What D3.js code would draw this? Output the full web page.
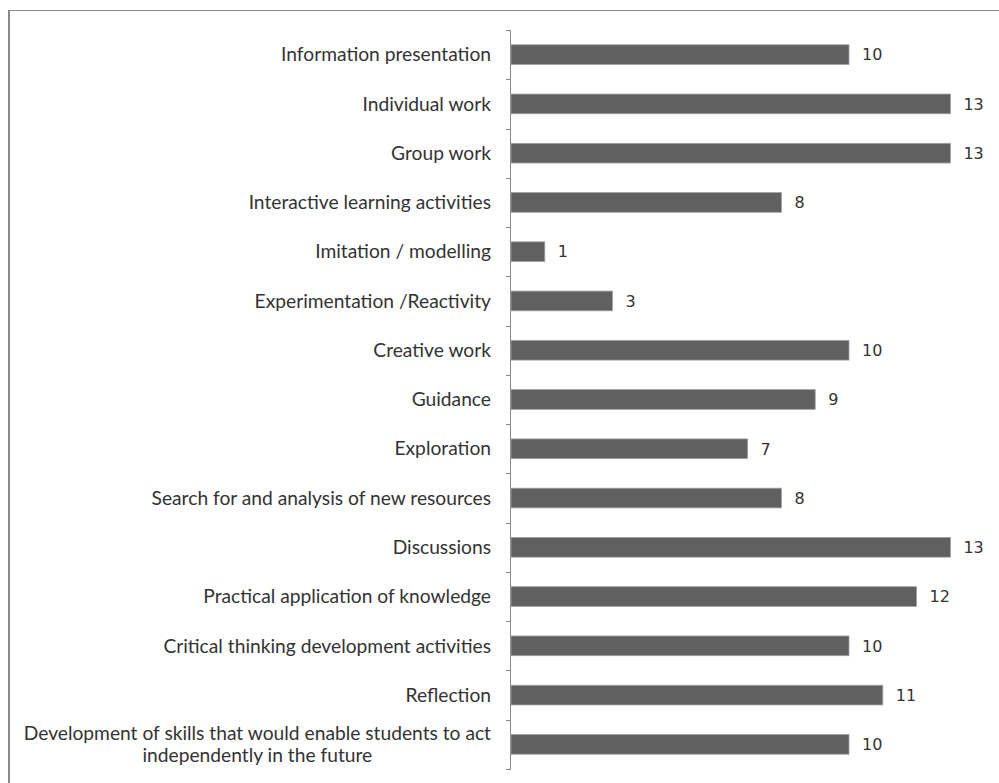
<!DOCTYPE html>
<html>
<head>
<meta charset="utf-8">
<script src="https://cdn.jsdelivr.net/npm/d3@7/dist/d3.min.js"></script>
<style>
  html, body { margin: 0; padding: 0; background: #fff; }
  svg { display: block; }
</style>
</head>
<body>
<svg id="chart" width="999" height="783"></svg>
<script>
// Teaching methods and how many respondents named each
const categories = [
  "Information presentation",
  "Individual work",
  "Group work",
  "Interactive learning activities",
  "Imitation / modelling",
  "Experimentation /Reactivity",
  "Creative work",
  "Guidance",
  "Exploration",
  "Search for and analysis of new resources",
  "Discussions",
  "Practical application of knowledge",
  "Critical thinking development activities",
  "Reflection",
  "Development of skills that would enable students to act\nindependently in the future"
];
const values = [10, 13, 13, 8, 1, 3, 10, 9, 7, 8, 13, 12, 10, 11, 10];
const valueMax = 13;

const svg = d3.select("#chart");

// frame: top and left edges only
svg.append("line").attr("x1", 9).attr("x2", 999).attr("y1", 10.5).attr("y2", 10.5)
  .attr("stroke", "#888").attr("stroke-width", 1);
svg.append("line").attr("x1", 9).attr("x2", 9).attr("y1", 10).attr("y2", 783)
  .attr("stroke", "#888").attr("stroke-width", 2);

const x0 = 511, y0 = 30, y1 = 769;
const x = d3.scaleLinear().domain([0, valueMax]).range([x0, 950.4]);
const y = d3.scaleBand().domain(categories).range([y0, y1]).paddingInner(0.6).paddingOuter(0.3);

// category axis: line with ticks between bands
const step = (y1 - y0) / categories.length;
const g = svg.append("g");
g.append("line").attr("x1", x0 - 0.5).attr("x2", x0 - 0.5).attr("y1", y0).attr("y2", y1)
  .attr("stroke", "#888").attr("stroke-width", 1);
d3.range(categories.length + 1).forEach(i => {
  const yy = Math.round(y0 + i * step) + 0.5;
  g.append("line").attr("x1", x0 - 5).attr("x2", x0).attr("y1", yy).attr("y2", yy)
    .attr("stroke", "#888").attr("stroke-width", 1);
});

// bars
svg.append("g").selectAll("rect").data(values).join("rect")
  .attr("x", x(0))
  .attr("y", (d, i) => y(categories[i]))
  .attr("width", d => x(d) - x(0))
  .attr("height", y.bandwidth())
  .attr("fill", "#606060")
  .attr("stroke", "#a0a0a0")
  .attr("stroke-width", 0.8);

// value labels
svg.append("g").selectAll("text").data(values).join("text")
  .attr("x", d => x(d) + 13)
  .attr("y", (d, i) => y(categories[i]) + y.bandwidth() / 2)
  .attr("dy", "0.36em")
  .attr("font-family", "DejaVu Sans, Verdana, sans-serif")
  .attr("font-size", 16)
  .attr("fill", "#333")
  .text(d => d);

// category labels, sized so the widest line fills the space left of the axis
const labelFont = "Lato, 'Open Sans', sans-serif";
const probe = svg.append("text").attr("font-family", labelFont).attr("font-size", 100)
  .text("Information presentation");
const fs = 100 * 210 / probe.node().getComputedTextLength();
probe.remove();

const labelRight = 491;
const lg = svg.append("g").attr("font-family", labelFont).attr("font-size", fs).attr("fill", "#333");
categories.forEach(c => {
  const lines = c.split("\n");
  const cy = y(c) + y.bandwidth() / 2;
  const lh = 22;
  if (lines.length === 1) {
    lg.append("text").attr("x", labelRight).attr("y", cy).attr("dy", "0.35em")
      .attr("text-anchor", "end").text(c);
  } else {
    // wrapped label: lines centred on each other, widest one flush right
    const t = lg.append("text").attr("text-anchor", "middle");
    const tmp = lg.append("text").text(lines[0]);
    const w = tmp.node().getComputedTextLength();
    tmp.remove();
    const cx = labelRight - w / 2;
    lines.forEach((ln, k) => {
      t.append("tspan").attr("x", cx)
        .attr("y", cy + (k - (lines.length - 1) / 2) * lh)
        .attr("dy", "0.35em").text(ln);
    });
  }
});
</script>
</body>
</html>
